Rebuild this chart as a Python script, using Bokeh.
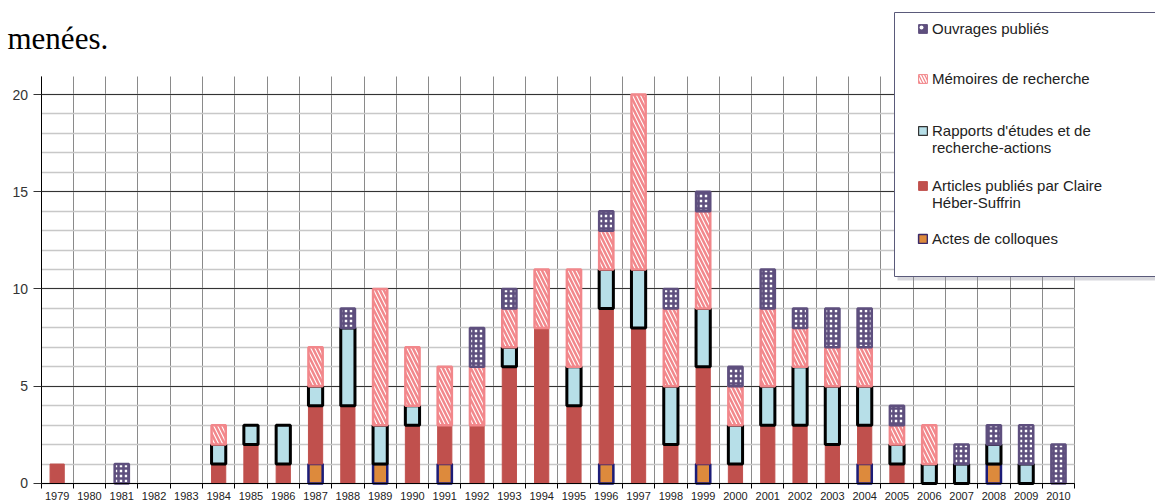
from bokeh.plotting import figure
from bokeh.models import (ColumnDataSource, FixedTicker, Legend, LegendItem, Label,
                          CDSView, BooleanFilter, Range1d, BoxAnnotation, Grid)
from bokeh.transform import stack
from bokeh.embed import file_html
from bokeh.resources import INLINE

years = list(range(1979, 2011))
actes    = [0,0,0,0,0,0,0,0,1,0,1,0,1,0,0,0,0,1,0,0,1,0,0,0,0,1,0,0,0,1,0,0]
articles = [1,0,0,0,0,1,2,1,3,4,0,3,2,3,6,8,4,8,8,2,5,1,3,3,2,2,1,0,0,0,0,0]
rapports = [0,0,0,0,0,1,1,2,1,4,2,1,0,0,1,0,2,2,3,3,3,2,2,3,3,2,1,1,1,1,1,0]
memoires = [0,0,0,0,0,1,0,0,2,0,7,3,3,3,2,3,5,2,9,4,5,2,4,2,2,2,1,2,0,0,0,0]
ouvrages = [0,0,1,0,0,0,0,0,0,1,0,0,0,2,1,0,0,1,0,1,1,1,2,1,2,2,1,0,1,1,2,2]
y_ticks = [0, 5, 10, 15, 20]

series = ["actes", "articles", "rapports", "memoires", "ouvrages"]
labels = {
    "ouvrages": "Ouvrages publiés",
    "memoires": "Mémoires de recherche",
    "rapports": "Rapports d'études et de\nrecherche-actions",
    "articles": "Articles publiés par Claire\nHéber-Suffrin",
    "actes": "Actes de colloques",
}
data = dict(year=years, actes=actes, articles=articles, rapports=rapports,
            memoires=memoires, ouvrages=ouvrages)
src = ColumnDataSource(data)

PURPLE, PINK, RED, BLUE, ORANGE, NAVY = "#5e4f7e", "#f2878b", "#c0504d", "#b7dfe8", "#dd8a3c", "#1c1c78"
styles = {
    "actes": dict(fill_color=ORANGE, line_color=NAVY, line_width=2.5),
    "articles": dict(fill_color=RED, line_color=RED, line_width=1),
    "rapports": dict(fill_color=BLUE, line_color="black", line_width=3),
    "memoires": dict(fill_color="white", line_color=PINK, line_width=2.5,
                     hatch_pattern="left_diagonal_line", hatch_color=PINK,
                     hatch_scale=8, hatch_weight=2.5),
    "ouvrages": dict(fill_color="white", line_color=PURPLE, line_width=2.5,
                     hatch_pattern="cross", hatch_color=PURPLE,
                     hatch_scale=5, hatch_weight=2.6),
}
legend_styles = {
    "actes": dict(fill_color=ORANGE, line_color="#3a2a6a", line_width=1.5),
    "articles": dict(fill_color=RED, line_color=RED, line_width=1),
    "rapports": dict(fill_color=BLUE, line_color="#333333", line_width=1.2),
    "memoires": dict(fill_color=PINK, line_color=PINK, line_width=1,
                     hatch_pattern="left_diagonal_line", hatch_color="white",
                     hatch_scale=6, hatch_weight=1.5),
    "ouvrages": dict(fill_color=PURPLE, line_color=PURPLE, line_width=1,
                     hatch_pattern="dot", hatch_color="white",
                     hatch_scale=8),
}

# frame covers the whole canvas; axes are drawn at fixed data locations
X0, X1 = 1978.5, 2010.5
Y1 = 20.94
p = figure(width=1155, height=502, title=None,
           x_range=Range1d(1977.246, 2013.004), y_range=Range1d(-0.977, 24.833),
           output_backend="svg", toolbar_location=None, min_border=0,
           min_border_left=0, min_border_right=0, min_border_top=0,
           min_border_bottom=0)
p.outline_line_color = None
p.background_fill_color = "white"

rends = {}
for i, name in enumerate(series):
    view = CDSView(filter=BooleanFilter([v > 0 for v in data[name]]))
    bottom = stack(*series[:i]) if i else 0
    rends[name] = p.vbar(x="year", width=0.44, bottom=bottom,
                         top=stack(*series[:i + 1]), source=src, view=view,
                         **styles[name])

# hidden legend-key renderers (thin outlines like the reference's legend keys)
proxies = {n: p.vbar(x="year", top=n, width=0.44, source=src, visible=False,
                     **legend_styles[n]) for n in series}

boundaries = [y - 0.5 for y in years] + [years[-1] + 0.5]

p.xaxis.fixed_location = 0
p.xaxis.bounds = (X0, X1)
p.xaxis.ticker = FixedTicker(ticks=years, minor_ticks=boundaries)
p.xaxis.major_tick_out = 0
p.xaxis.major_tick_in = 0
p.xaxis.minor_tick_out = 5
p.xaxis.minor_tick_in = 0
p.xaxis.minor_tick_line_color = "black"
p.xaxis.axis_line_color = "black"
p.xaxis.major_label_text_font = "Liberation Sans"
p.xaxis.major_label_text_font_size = "11px"
p.xaxis.major_label_text_color = "#222222"
p.xaxis.major_label_standoff = 4

p.yaxis.fixed_location = X0
p.yaxis.bounds = (0, Y1)
p.yaxis.ticker = FixedTicker(ticks=y_ticks, minor_ticks=[])
p.yaxis.major_tick_out = 8
p.yaxis.major_tick_in = 0
p.yaxis.major_tick_line_color = "#333333"
p.yaxis.axis_line_color = "black"
p.yaxis.major_label_text_font = "Liberation Sans"
p.yaxis.major_label_text_font_size = "14px"
p.yaxis.major_label_text_color = "#333333"
p.yaxis.major_label_standoff = 5

p.xgrid.ticker = FixedTicker(ticks=boundaries)
p.xgrid.grid_line_color = "#8a8a8a"
p.xgrid.grid_line_width = 1

p.ygrid.ticker = FixedTicker(ticks=y_ticks, minor_ticks=list(range(0, 21)))
p.ygrid.grid_line_color = "#333333"
p.ygrid.grid_line_width = 1
p.ygrid.minor_grid_line_color = "#c8c8c8"
p.ygrid.minor_grid_line_width = 1.5

if "cross_bounds" in Grid.properties():
    p.xgrid.cross_bounds = (0, Y1)
    p.ygrid.cross_bounds = (X0, X1)
else:
    for kw in (dict(left=X1), dict(bottom=Y1), dict(top=0)):
        p.add_layout(BoxAnnotation(fill_color="white", fill_alpha=1, line_alpha=0,
                                   level="underlay", **kw))

# legend frame with soft shadow
p.add_layout(BoxAnnotation(left=897, right=1170, top=487, bottom=222,
                           left_units="screen", right_units="screen",
                           top_units="screen", bottom_units="screen",
                           fill_color="#8c8c9c", fill_alpha=0.35, line_alpha=0))
p.add_layout(BoxAnnotation(left=894, right=1168, top=490, bottom=226,
                           left_units="screen", right_units="screen",
                           top_units="screen", bottom_units="screen",
                           fill_color="white", fill_alpha=1,
                           line_color="#5a5a7a", line_width=1, line_alpha=1))

# two-line entries get a leading blank line so their key sits beside the first line
order = ["ouvrages", "memoires", "rapports", "articles", "actes"]
legend_text = {n: ("\n" + labels[n]) if "\n" in labels[n] else labels[n] for n in order}
legend = Legend(items=[LegendItem(label=legend_text[n], renderers=[proxies[n]]) for n in order],
                location=(917, 241))
legend.border_line_alpha = 0
legend.background_fill_alpha = 0
legend.label_text_font = "Liberation Sans"
legend.label_text_font_size = "15px"
legend.label_text_color = "#222222"
legend.glyph_width = 11
legend.glyph_height = 11
legend.label_standoff = 4
legend.padding = 0
legend.margin = 0
legend.spacing = 4
legend.label_height = 46
p.add_layout(legend)

p.add_layout(Label(x=7, y=464, x_units="screen", y_units="screen", text="menées.",
                   text_font="Liberation Serif", text_font_size="31px",
                   text_color="black", text_baseline="alphabetic"))

open("out.html", "w").write(file_html(p, INLINE))
